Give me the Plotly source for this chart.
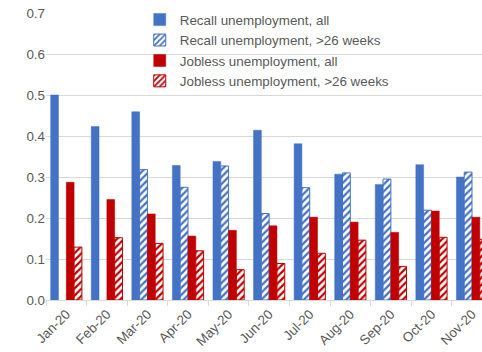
import plotly.graph_objects as go

months = ["Jan-20", "Feb-20", "Mar-20", "Apr-20", "May-20", "Jun-20",
          "Jul-20", "Aug-20", "Sep-20", "Oct-20", "Nov-20"]

recall_all = [0.500, 0.423, 0.459, 0.328, 0.338, 0.414, 0.381, 0.307, 0.282, 0.330, 0.300]
recall_26w = [None, None, 0.318, 0.275, 0.327, 0.211, 0.274, 0.310, 0.295, 0.219, 0.312]
jobless_all = [0.287, 0.245, 0.210, 0.156, 0.170, 0.181, 0.202, 0.190, 0.165, 0.217, 0.202]
jobless_26w = [0.129, 0.152, 0.138, 0.120, 0.074, 0.089, 0.114, 0.146, 0.082, 0.153, 0.148]

BLUE = "#4472C4"
RED = "#C00000"
TEXT = "#595959"
GRID = "#D9D9D9"
FONT = "Liberation Sans, Arial, sans-serif"
SIZE = 13.4


def solid(name, y, color):
    return go.Bar(name=name, x=months, y=y,
                  marker=dict(color=color, line=dict(color=color, width=0.5)))


def hatched(name, y, color):
    return go.Bar(name=name, x=months, y=y,
                  marker=dict(color="white",
                              line=dict(color=color, width=1),
                              pattern=dict(shape="/", fgcolor=color, bgcolor="white",
                                           fillmode="replace", size=5, solidity=0.45)))


fig = go.Figure([
    solid("Recall unemployment, all", recall_all, BLUE),
    hatched("Recall unemployment, >26 weeks", recall_26w, BLUE),
    solid("Jobless unemployment, all", jobless_all, RED),
    hatched("Jobless unemployment, >26 weeks", jobless_26w, RED),
])

fig.update_layout(
    width=482, height=352,
    margin=dict(l=46, r=0, t=13, b=52, pad=0),
    paper_bgcolor="white", plot_bgcolor="white",
    barmode="group", bargap=0.23, bargroupgap=0,
    font=dict(family=FONT, size=SIZE, color=TEXT),
    legend=dict(x=0.215, y=1.03, xanchor="left", yanchor="top",
                bgcolor="rgba(0,0,0,0)", font=dict(size=SIZE, color=TEXT),
                itemwidth=30, tracegroupgap=0),
    showlegend=True,
)

fig.update_xaxes(
    type="category", range=[-0.5, 10.246],
    tickangle=-45, ticks="outside", tickson="boundaries",
    ticklen=5, tickcolor=GRID, showline=True, linecolor=GRID, linewidth=1,
    showgrid=False, tickfont=dict(size=SIZE, color=TEXT),
)
fig.update_yaxes(
    range=[0, 0.7], dtick=0.1, tickformat=".1f",
    showgrid=True, gridcolor=GRID, gridwidth=1, zeroline=False,
    showline=False, ticks="", tickfont=dict(size=SIZE, color=TEXT),
)

fig.write_html("out.html")
